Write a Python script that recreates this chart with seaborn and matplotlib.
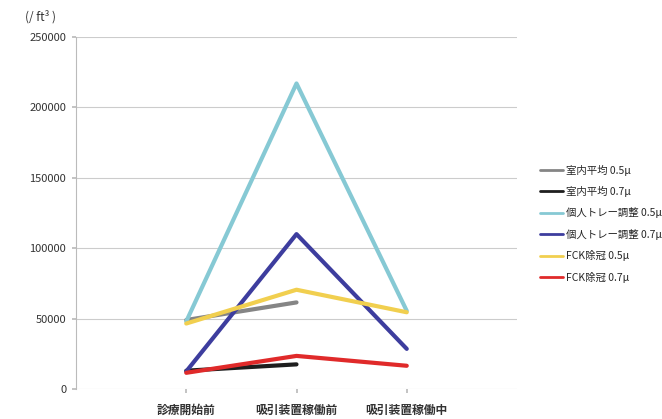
import numpy as np
import pandas as pd
import matplotlib
matplotlib.use("Agg")
import matplotlib.pyplot as plt
import seaborn as sns

categories = ["診療開始前", "吸引装置稼働前", "吸引装置稼働中"]
series_names = ["室内平均 0.5μ", "室内平均 0.7μ", "個人トレー調整 0.5μ",
                "個人トレー調整 0.7μ", "FCK除冠 0.5μ", "FCK除冠 0.7μ"]
room_05 = [49000, 61500, np.nan]
room_07 = [13000, 17500, np.nan]
tray_05 = [48000, 217000, 55500]
tray_07 = [12500, 110000, 28500]
fck_05 = [46500, 70500, 54500]
fck_07 = [11500, 23500, 16500]
yticks = [0, 50000, 100000, 150000, 200000, 250000]
colors = ["#858585", "#1e1e1e", "#86c9d4", "#3d3d9e", "#f1cf4f", "#e02a2a"]

sns.set_theme(style="white")
plt.rcParams['font.family'] = ['Noto Sans CJK JP', 'DejaVu Sans']

rows = []
for name, vals in zip(series_names, [room_05, room_07, tray_05, tray_07, fck_05, fck_07]):
    for i, v in enumerate(vals):
        if not np.isnan(v):
            rows.append({"series": name, "x": i, "value": v})
df = pd.DataFrame(rows)

fig = plt.figure(figsize=(6.62, 4.19), dpi=100)
ax = fig.add_axes([76/662, 1-389/419, (517-76)/662, (389-37)/419])
sns.lineplot(data=df, x="x", y="value", hue="series", hue_order=series_names,
             palette=colors, linewidth=3, ax=ax, sort=False)

ax.set_xlim(-1, 3)
ax.set_ylim(0, 250000)
ax.set_yticks(yticks)
ax.set_yticklabels([str(t) for t in yticks], fontsize=8, color="#333333")
ax.set_xticks(range(len(categories)))
ax.set_xticklabels(categories, fontsize=8.5, fontweight="bold", color="#333333")
ax.set_xlabel("")
ax.set_ylabel("")
ax.yaxis.grid(True, color="#cccccc", linewidth=0.8)
ax.set_axisbelow(True)
for s in ["top", "right", "bottom"]:
    ax.spines[s].set_visible(False)
ax.spines["left"].set_color("#bbbbbb")
ax.spines["left"].set_linewidth(0.8)
ax.tick_params(axis="y", length=3, color="#bbbbbb", left=True, pad=4)
ax.tick_params(axis="x", length=3, color="#bbbbbb", bottom=True, pad=8)

leg = ax.legend(loc="center left", bbox_to_anchor=(1.03, 0.47), frameon=False,
                fontsize=7.5, handlelength=2.2, labelspacing=1.0, handletextpad=0.3)
for line in leg.get_lines():
    line.set_linewidth(2)

fig.text(25/662, 1-17/419, "(/ ft³ )", fontsize=8.5, color="#333333", va="center")

fig.savefig("out.png", dpi=100)
